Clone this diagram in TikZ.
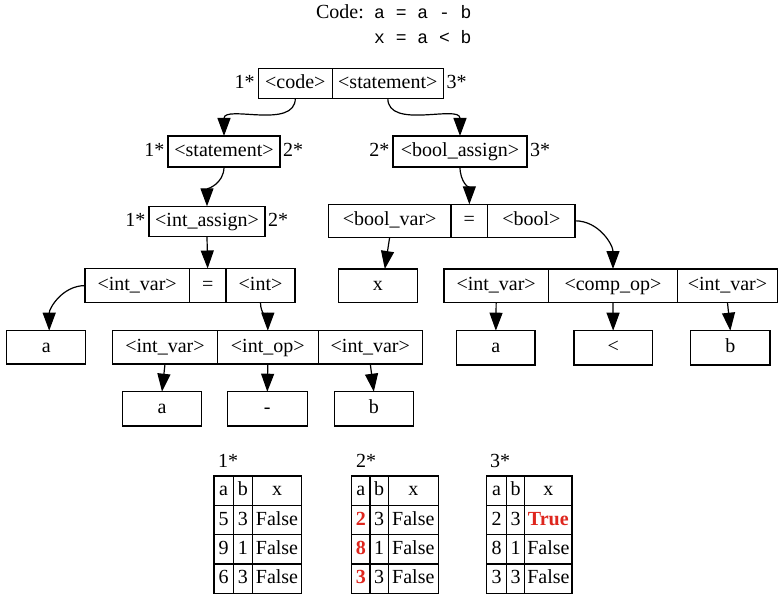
\documentclass[tikz,border=0pt]{standalone}
\usepackage{fontspec}
\setmainfont{Liberation Serif}
\setmonofont{Liberation Mono}
\usetikzlibrary{arrows.meta,calc}
\definecolor{redval}{RGB}{222,38,30}
\tikzset{
  cell/.style={draw, line width=1.1pt, inner sep=0pt, outer sep=0pt,
    text height=15pt, text depth=5pt, font=\fontsize{20}{24}\selectfont},
  lbl/.style={inner sep=0pt, text height=15pt, text depth=5pt,
    font=\fontsize{20}{24}\selectfont},
  mono/.style={inner sep=0pt, font=\fontsize{18}{22}\ttfamily},
  arr/.style={line width=1.2pt, arrows={-Triangle[length=18pt,width=13pt]}},
}
\newcommand\mkcell[6]{%
  \node[cell, minimum width={(#4-#2)*1pt}, minimum height={(#5-#3)*1pt}]
    (#1) at ({(#2+#4)/2},{(#3+#5)/2}) {#6};}
\newcommand\txa{0}\newcommand\txb{0}\newcommand\txc{0}\newcommand\txd{0}
\newcommand\trow[6]{%
  \mkcell{#1a}{\txa}{#2}{\txb}{#3}{#4}%
  \mkcell{#1b}{\txb}{#2}{\txc}{#3}{#5}%
  \mkcell{#1c}{\txc}{#2}{\txd}{#3}{#6}}
\newcommand\rv[1]{\textcolor{redval}{\textbf{#1}}}
\begin{document}
\begin{tikzpicture}[x=1pt,y=-1pt]
\useasboundingbox (0,0) rectangle (778,596);
% title
\node[inner sep=0pt, font=\fontsize{20}{24}\selectfont, anchor=base east] (codelbl) at (364,19) {Code:};
\node[mono, anchor=base west] (codeA) at (374,19) {a = a - b};
\node[mono, anchor=base west] (codeB) at (374,43.5) {x = a < b};
% row 1
\mkcell{code}{258.3}{68.3}{332.3}{98.3}{<code>}
\mkcell{stmtA}{332.3}{68.3}{443.3}{98.3}{<statement>}
\node[lbl, anchor=east] (l1a) at ($(code.west)+(-3.5,0)$) {1*};
\node[lbl, anchor=west] (l1b) at ($(stmtA.east)+(3,0)$) {3*};
% row 2
\mkcell{stmtB}{168}{136}{280}{167}{<statement>}
\mkcell{bassign}{393}{136}{527}{167}{<bool\_assign>}
\node[lbl, anchor=east] (l2a) at ($(stmtB.west)+(-3.5,0)$) {1*};
\node[lbl, anchor=west] (l2b) at ($(stmtB.east)+(3,0)$) {2*};
\node[lbl, anchor=east] (l2c) at ($(bassign.west)+(-3.5,0)$) {2*};
\node[lbl, anchor=west] (l2d) at ($(bassign.east)+(3,0)$) {3*};
% row 3
\mkcell{iassign}{149}{206.3}{265}{236.7}{<int\_assign>}
\node[lbl, anchor=east] (l3a) at ($(iassign.west)+(-3.5,0)$) {1*};
\node[lbl, anchor=west] (l3b) at ($(iassign.east)+(3,0)$) {2*};
\mkcell{bvar}{328.3}{204.3}{451}{237.3}{<bool\_var>}
\mkcell{beq}{451}{204.3}{487.7}{237.3}{=}
\mkcell{bool}{487.7}{204.3}{575}{237.3}{<bool>}
% row 4
\mkcell{ivar4}{85}{268.5}{189.3}{302.7}{<int\_var>}
\mkcell{ieq4}{189.3}{268.5}{226}{302.7}{=}
\mkcell{int4}{226}{268.5}{295}{302.7}{<int>}
\mkcell{xleaf}{338.3}{269}{417.3}{302.7}{x}
\mkcell{rv1}{444}{269}{548.3}{302.7}{<int\_var>}
\mkcell{rop}{548.3}{269}{677.7}{302.7}{<comp\_op>}
\mkcell{rv2}{677.7}{269}{777.3}{302.7}{<int\_var>}
% row 5
\mkcell{aleaf}{6.7}{330.7}{85.7}{364}{a}
\mkcell{v5a}{112.7}{330.7}{217.3}{364}{<int\_var>}
\mkcell{v5b}{217.3}{330.7}{318.3}{364}{<int\_op>}
\mkcell{v5c}{318.3}{330.7}{422.3}{364}{<int\_var>}
\mkcell{la}{456.7}{330.7}{535}{365}{a}
\mkcell{llt}{574}{330.7}{652.3}{365}{<}
\mkcell{lb}{690.7}{330.7}{770}{365}{b}
% row 6
\mkcell{l6a}{122.3}{391.7}{201.7}{426}{a}
\mkcell{l6b}{227.3}{391.7}{307.3}{426}{-}
\mkcell{l6c}{334.3}{391.7}{413.3}{426}{b}
% edges
\draw[arr] (code.south) to[out=-90,in=90] (stmtB.north);
\draw[arr] (stmtA.south) to[out=-90,in=90] (bassign.north);
\draw[arr] (stmtB.south) to[out=-90,in=90] (iassign.north);
\draw[arr] (bassign.south) to[out=-90,in=90] (beq.north);
\draw[arr] (iassign.south) -- (ieq4.north);
\draw[arr] (ivar4.west) to[out=180,in=90] ($(aleaf.north)+(3,0)$);
\draw[arr] (int4.south) to[out=-90,in=90] (v5b.north);
\draw[arr] (bvar.south) -- ($(xleaf.north)+(7,0)$);
\draw[arr] (bool.east) to[out=0,in=90] (rop.north);
\draw[arr] (v5a.south) -- (l6a.north);
\draw[arr] (v5b.south) -- (l6b.north);
\draw[arr] (v5c.south) -- (l6c.north);
\draw[arr] (rv1.south) -- (la.north);
\draw[arr] (rop.south) -- (llt.north);
\draw[arr] (rv2.south) -- (lb.north);
% tables
\renewcommand\txa{214}\renewcommand\txb{233.3}\renewcommand\txc{252.3}\renewcommand\txd{301.7}
\node[lbl, anchor=base west] (t1l) at (218,467.5) {1*};
\trow{tA0}{476}{505.3}{a}{b}{x}
\trow{tA1}{505.3}{534.7}{5}{3}{False}
\trow{tA2}{534.7}{564}{9}{1}{False}
\trow{tA3}{564}{593.3}{6}{3}{False}
\renewcommand\txa{351.7}\renewcommand\txb{370}\renewcommand\txc{388.3}\renewcommand\txd{438.3}
\node[lbl, anchor=base west] (t2l) at (356,467.5) {2*};
\trow{tB0}{476}{505.3}{a}{b}{x}
\trow{tB1}{505.3}{534.7}{\rv{2}}{3}{False}
\trow{tB2}{534.7}{564}{\rv{8}}{1}{False}
\trow{tB3}{564}{593.3}{\rv{3}}{3}{False}
\renewcommand\txa{486.7}\renewcommand\txb{506.3}\renewcommand\txc{524.7}\renewcommand\txd{572}
\node[lbl, anchor=base west] (t3l) at (490,467.5) {3*};
\trow{tC0}{476}{505.3}{a}{b}{x}
\trow{tC1}{505.3}{534.7}{2}{3}{\rv{True}}
\trow{tC2}{534.7}{564}{8}{1}{False}
\trow{tC3}{564}{593.3}{3}{3}{False}
\end{tikzpicture}
\end{document}
